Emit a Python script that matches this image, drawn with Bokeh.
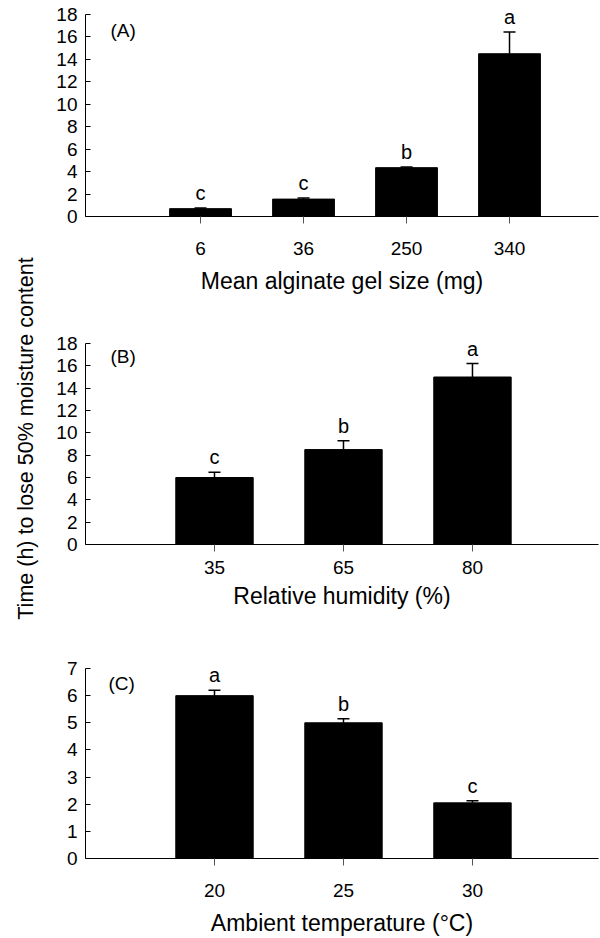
import math
from bokeh.plotting import figure
from bokeh.models import (ColumnDataSource, Whisker, TeeHead, FixedTicker, Label,
                          LabelSet, Range1d)
from bokeh.layouts import column, row
from bokeh.embed import file_html
from bokeh.resources import INLINE
from bokeh.core.properties import value

FONT = "Liberation Sans"

# ---- data ----
a_categories = ["6", "36", "250", "340"]
a_values = [0.7, 1.55, 4.35, 14.5]
a_errors = [0.06, 0.1, 0.05, 1.93]
a_letters = ["c", "c", "b", "a"]

b_categories = ["35", "65", "80"]
b_values = [6.0, 8.5, 15.0]
b_errors = [0.47, 0.8, 1.2]
b_letters = ["c", "b", "a"]

c_categories = ["20", "25", "30"]
c_values = [6.0, 5.0, 2.05]
c_errors = [0.2, 0.15, 0.08]
c_letters = ["a", "b", "c"]

a_yticks = [0, 2, 4, 6, 8, 10, 12, 14, 16, 18]
b_yticks = [0, 2, 4, 6, 8, 10, 12, 14, 16, 18]
c_yticks = [0, 1, 2, 3, 4, 5, 6, 7]

y_title = "Time (h) to lose 50% moisture content"

TITLE_W = 45
PANEL_W = 555


def panel(cats, vals, errs, letters, xlabel, tag, x_rng, y_end, y_bound, yticks,
          height, b_top, b_bottom, tick_standoff, label_standoff, tag_xy):
    xs = list(range(1, len(cats) + 1))
    src = ColumnDataSource(dict(
        x=xs, top=vals, upper=[v + e for v, e in zip(vals, errs)], letter=letters))
    p = figure(width=PANEL_W, height=height, x_range=Range1d(*x_rng), y_range=Range1d(0, y_end),
               output_backend="svg", toolbar_location=None,
               min_border_left=40, min_border_right=2,
               min_border_top=b_top, min_border_bottom=b_bottom)
    p.xgrid.visible = False
    p.ygrid.visible = False
    p.outline_line_color = None

    p.vbar(x="x", top="top", width=0.6, source=src, fill_color="black", line_color="black")
    p.add_layout(Whisker(base="x", lower="top", upper="upper", source=src,
                         lower_head=None,
                         upper_head=TeeHead(size=12, line_width=1.5, line_color="black"),
                         line_width=1.5, line_color="black"))
    p.add_layout(LabelSet(x="x", y="upper", text="letter", source=src,
                          text_font=value(FONT), text_font_size="20px",
                          text_align="center", text_baseline="alphabetic",
                          y_offset=8, text_color="black"))
    p.add_layout(Label(x=tag_xy[0], y=tag_xy[1], text=tag, text_font=FONT,
                       text_font_size="19px", text_baseline="middle", text_align="left",
                       text_color="black"))

    xa = p.xaxis[0]
    xa.ticker = FixedTicker(ticks=xs)
    xa.major_label_overrides = {x: c for x, c in zip(xs, cats)}
    xa.major_tick_in = 0
    xa.major_tick_out = 7
    xa.minor_tick_line_color = None
    xa.major_tick_line_color = "#555555"
    xa.axis_line_color = "black"
    xa.major_label_standoff = tick_standoff
    xa.major_label_text_font = FONT
    xa.major_label_text_font_size = "19px"
    xa.major_label_text_color = "black"
    xa.axis_label = xlabel
    xa.axis_label_text_font = FONT
    xa.axis_label_text_font_size = "23px"
    xa.axis_label_text_font_style = "normal"
    xa.axis_label_text_color = "black"
    xa.axis_label_standoff = label_standoff

    ya = p.yaxis[0]
    ya.ticker = FixedTicker(ticks=yticks)
    ya.bounds = (0, y_bound)
    ya.major_tick_in = 5
    ya.major_tick_out = 0
    ya.minor_tick_line_color = None
    ya.axis_line_color = "black"
    ya.major_tick_line_color = "black"
    ya.major_label_standoff = 8
    ya.major_label_text_font = FONT
    ya.major_label_text_font_size = "19px"
    ya.major_label_text_color = "black"
    return p


pa = panel(a_categories, a_values, a_errors, a_letters, "Mean alginate gel size (mg)", "(A)",
           (-0.117, 4.864), 18.53, 18, a_yticks, 305, 8, 89, 18, 10, (0.126, 16.58))
pb = panel(b_categories, b_values, b_errors, b_letters, "Relative humidity (%)", "(B)",
           (0.0, 3.977), 18, 18, b_yticks, 325, 38, 86, 9, 6, (0.194, 16.83))
pc = panel(c_categories, c_values, c_errors, c_letters, "Ambient temperature (\u00b0C)", "(C)",
           (0.0, 3.977), 7, 7, c_yticks, 308, 38, 80, 18, 10, (0.178, 6.45))

total_h = 305 + 325 + 308
tp = figure(width=TITLE_W, height=total_h, x_range=Range1d(0, TITLE_W),
            y_range=Range1d(0, total_h), output_backend="svg", toolbar_location=None,
            x_axis_location=None, y_axis_location=None,
            min_border_left=0, min_border_right=0, min_border_top=0, min_border_bottom=0)
tp.xgrid.visible = False
tp.ygrid.visible = False
tp.outline_line_color = None
tp.add_layout(Label(x=25, y=total_h - 438, text=y_title, angle=math.pi / 2,
                    text_font=FONT, text_font_size="21.5px", text_align="center",
                    text_baseline="middle", text_color="black"))

layout = row(tp, column(pa, pb, pc, spacing=0), spacing=0)
open("out.html", "w").write(file_html(layout, INLINE))
